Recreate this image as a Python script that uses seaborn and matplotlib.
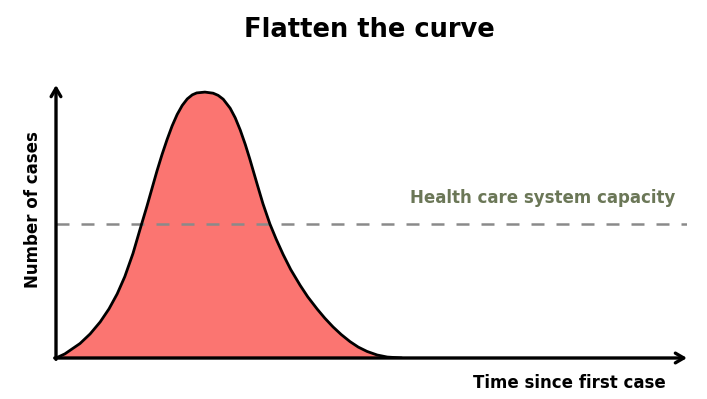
import matplotlib
matplotlib.use("Agg")
import matplotlib.pyplot as plt
import seaborn as sns
import pandas as pd

# Data (time in arbitrary units, cases in % of axis height)
time = [0, 1.4, 3.8, 5.4, 7.0, 8.4, 9.7, 10.9, 12.2, 13.3, 14.4, 15.2, 16.0, 16.8,
        17.6, 18.4, 19.2, 20.0, 20.8, 21.6, 22.3, 23.6, 24.9, 25.7, 26.5, 27.6,
        28.4, 29.2, 30.0, 30.7, 31.9, 32.8, 33.9, 34.9, 36.0, 37.2, 38.7, 39.9,
        41.4, 42.6, 43.9, 45.2, 46.6, 47.9, 49.3, 50.9, 52.5, 54.8]
cases = [0, 1.5, 5.3, 8.8, 13.2, 18.0, 23.5, 29.8, 38.3, 47.0, 55.5, 62.0, 68.5, 74.5,
         80.0, 85.0, 89.2, 92.5, 94.9, 96.4, 97.1, 97.4, 97.0, 96.2, 94.8, 91.5,
         88.0, 83.5, 78.2, 73.0, 63.5, 56.5, 49.1, 43.5, 37.9, 32.4, 26.6, 22.4,
         17.9, 14.6, 11.4, 8.6, 6.0, 4.0, 2.4, 1.1, 0.35, 0]
capacity = 49.1

title = "Flatten the curve"
xlabel = "Time since first case"
ylabel = "Number of cases"
capacity_label = "Health care system capacity"

df = pd.DataFrame({"time": time, "cases": cases})

sns.set_style("white")
plt.rcParams['font.family'] = ['DejaVu Sans']

fig = plt.figure(figsize=(7.07, 3.99), dpi=100)
ax = fig.add_axes([56/707, 41/399, 631/707, 273/399])

ax.fill_between(df["time"], df["cases"], 0, color="#fb7571", lw=0, zorder=1)
sns.lineplot(data=df, x="time", y="cases", ax=ax, color="black", lw=2.0,
             sort=False, zorder=3, solid_joinstyle="round", solid_capstyle="round")

ax.axhline(capacity, color="#8a8a8a", lw=1.8, linestyle=(0, (5.2, 4.8)), zorder=2)
ax.text(56.1, 56.8, capacity_label, color="#6b7757", fontsize=12,
        fontweight="bold", va="baseline", ha="left")

ax.set_xlim(0, 100)
ax.set_ylim(0, 100)
ax.set_xticks([])
ax.set_yticks([])
ax.set_xlabel("")
ax.set_ylabel("")
for s in ax.spines.values():
    s.set_visible(False)

# axis arrows
ax.annotate("", xy=(1.0, 0), xytext=(-0.002, 0), xycoords="axes fraction",
            arrowprops=dict(arrowstyle="->,head_length=0.6,head_width=0.35", lw=2.4,
                            color="black", shrinkA=0, shrinkB=0), zorder=5)
ax.annotate("", xy=(0, 1.0), xytext=(0, -0.005), xycoords="axes fraction",
            arrowprops=dict(arrowstyle="->,head_length=0.6,head_width=0.35", lw=2.4,
                            color="black", shrinkA=0, shrinkB=0), zorder=5)

fig.text(369/707, 1 - 37/399, title, ha="center", va="baseline", fontsize=18.5,
         fontweight="bold", color="black")
fig.text(666/707, 1 - 388/399, xlabel, ha="right", va="baseline", fontsize=12,
         fontweight="bold", color="black")
fig.text(33/707, 1 - 210/399, ylabel, ha="center", va="center", fontsize=12,
         fontweight="bold", color="black", rotation=90)

fig.savefig("out.png", dpi=100, facecolor="white")
